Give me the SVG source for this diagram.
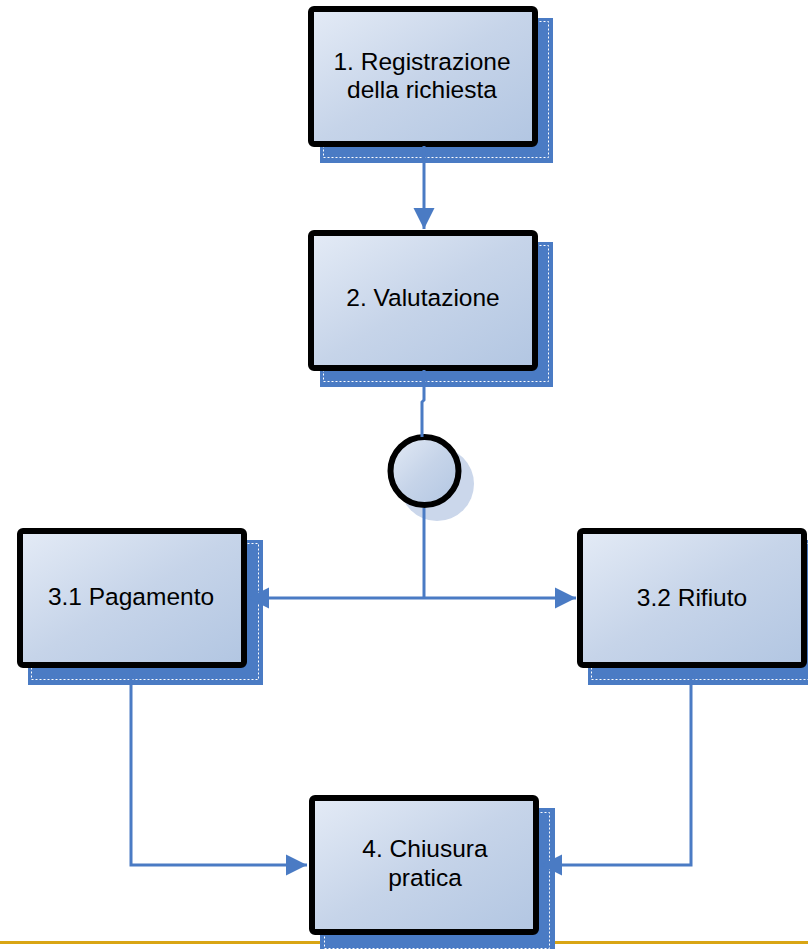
<svg xmlns="http://www.w3.org/2000/svg" width="808" height="949" viewBox="0 0 808 949">
<defs>
<linearGradient id="g" x1="0" y1="0" x2="1" y2="1">
<stop offset="0" stop-color="#e4ebf6"/>
<stop offset="0.5" stop-color="#c6d4e9"/>
<stop offset="1" stop-color="#b2c6e2"/>
</linearGradient>
<marker id="ah" viewBox="0 0 10 10" refX="10" refY="5" markerWidth="7" markerHeight="7.5" markerUnits="strokeWidth" orient="auto">
<path d="M0,0 L10,5 L0,10 Z" fill="#4a7bc4"/>
</marker>
</defs>
<style>
.sh{fill:#4a7bc4;}
.shl{fill:none;stroke:#ffffff;stroke-width:1;stroke-dasharray:2 2;}
.box{fill:url(#g);stroke:#000;stroke-width:6;}
.t{font-family:"Liberation Sans",Arial,sans-serif;font-size:24.5px;fill:#000;text-anchor:middle;}
.c{fill:none;stroke:#4a7bc4;stroke-width:3;}
</style>
<rect width="808" height="949" fill="#fff"/>
<line x1="0" y1="942.5" x2="808" y2="942.5" stroke="#d9a514" stroke-width="3"/>
<g id="n1">
<rect class="sh" x="320" y="18" width="233" height="145"/>
<rect class="shl" x="323.5" y="21.5" width="225" height="136"/>
<rect class="box" x="311" y="9" width="224" height="135" rx="3"/>
<text class="t" x="422" y="70">1. Registrazione</text>
<text class="t" x="422" y="98">della richiesta</text>
</g>
<g id="n2">
<rect class="sh" x="320" y="242" width="233" height="145"/>
<rect class="shl" x="323.5" y="245.5" width="225" height="136"/>
<rect class="box" x="311" y="233" width="224" height="135" rx="3"/>
<text class="t" x="423" y="306">2. Valutazione</text>
</g>
<g id="gw">
<circle cx="437" cy="484" r="37" fill="#cbd7eb"/>
<circle cx="424.5" cy="471" r="34" fill="url(#g)" stroke="#000" stroke-width="6"/>
</g>
<g id="n31">
<rect class="sh" x="28" y="540" width="235" height="145"/>
<rect class="shl" x="31.5" y="543.5" width="227" height="136"/>
<rect class="box" x="20" y="531" width="224" height="134" rx="3"/>
<text class="t" x="131" y="605">3.1 Pagamento</text>
</g>
<g id="n32">
<rect class="sh" x="588" y="540" width="235" height="145"/>
<rect class="shl" x="591.5" y="543.5" width="227" height="136"/>
<rect class="box" x="580" y="531" width="224" height="134" rx="3"/>
<text class="t" x="692" y="606">3.2 Rifiuto</text>
</g>
<g id="n4">
<rect class="sh" x="320" y="808" width="235" height="145"/>
<rect class="shl" x="324.5" y="812.5" width="225" height="136"/>
<rect class="box" x="312" y="798" width="224" height="134" rx="3"/>
<text class="t" x="425" y="857">4. Chiusura</text>
<text class="t" x="425" y="886">pratica</text>
</g>
<g id="connectors">
<path class="c" d="M424,146 V229" marker-end="url(#ah)"/>
<path class="c" d="M424,370 V400 L422,402 V437"/>
<path class="c" d="M424,508 V598"/>
<path class="c" d="M424,598 H248" marker-end="url(#ah)"/>
<path class="c" d="M424,598 H576" marker-end="url(#ah)"/>
<path class="c" d="M131,668 V865 H307" marker-end="url(#ah)"/>
<path class="c" d="M691,668 V865 H541" marker-end="url(#ah)"/>
</g>
</svg>
